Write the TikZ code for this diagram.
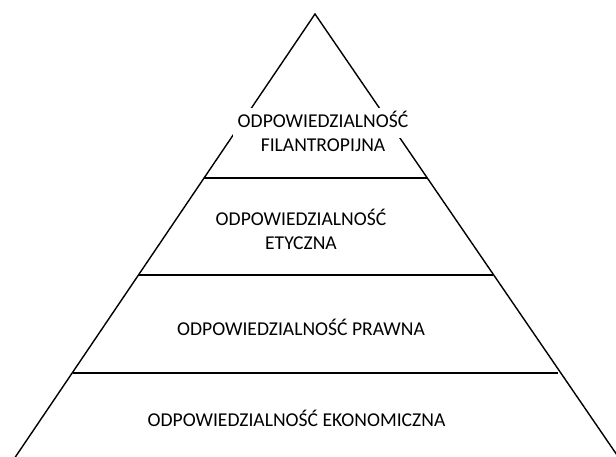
\documentclass[tikz,border=0pt]{standalone}
\usepackage{fontspec}
\setmainfont{Carlito}
\begin{document}
\begin{tikzpicture}[x=1pt,y=-1pt,
  edge/.style={draw=black,line width=1.4pt},
  lbl/.style={align=center,font=\fontsize{19.6}{24}\selectfont,inner sep=0pt}]
\useasboundingbox (0,0) rectangle (616,457);
\clip (0,0) rectangle (616,457);
\coordinate (apex) at (315,14);
\coordinate (bl) at (-9,493);
\coordinate (br) at (643,493);
\coordinate (a1) at (204,178);
\coordinate (b1) at (427,178);
\coordinate (a2) at (138,275);
\coordinate (b2) at (493,275);
\coordinate (a3) at (73,373);
\coordinate (b3) at (558,373);
\draw[edge,line join=miter] (bl) -- (apex) -- (br);
\draw[edge] (a1) -- (b1);
\draw[edge] (a2) -- (b2);
\draw[edge] (a3) -- (b3);
\fill[white] (233,108) rectangle (413,138);
\node[lbl] (n1) at (323,131) {ODPOWIEDZIALNOŚĆ\\FILANTROPIJNA};
\node[lbl] (n2) at (301,229) {ODPOWIEDZIALNOŚĆ\\ETYCZNA};
\node[lbl] (n3) at (301,327) {ODPOWIEDZIALNOŚĆ PRAWNA};
\node[lbl] (n4) at (296.5,418) {ODPOWIEDZIALNOŚĆ EKONOMICZNA};
\end{tikzpicture}
\end{document}
